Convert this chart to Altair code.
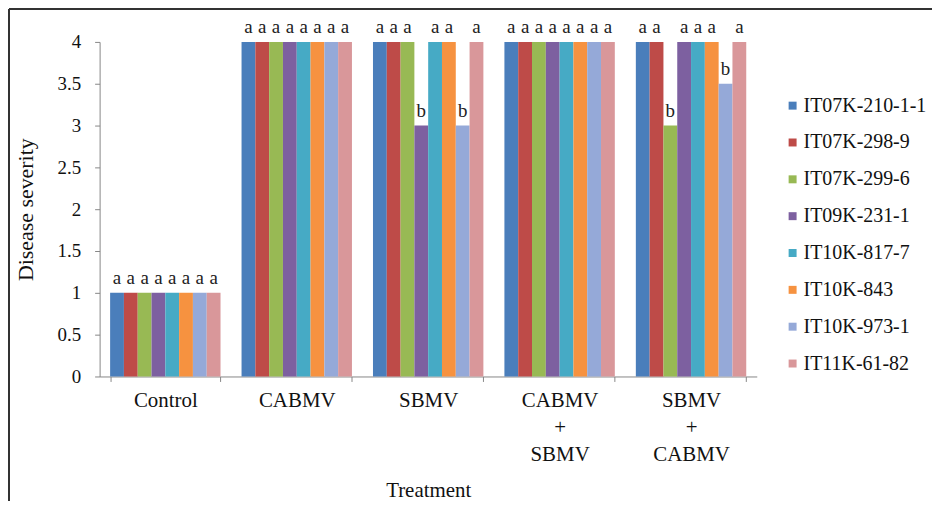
import altair as alt
import pandas as pd

treatments = ["Control", "CABMV", "SBMV", "CABMV|+|SBMV", "SBMV|+|CABMV"]
genotypes = ["IT07K-210-1-1", "IT07K-298-9", "IT07K-299-6", "IT09K-231-1",
             "IT10K-817-7", "IT10K-843", "IT10K-973-1", "IT11K-61-82"]
colors = ["#4A7EBB", "#BE4B48", "#98B954", "#7D60A0",
          "#46AAC5", "#F69240", "#95A9D8", "#D9979A"]

control = [1, 1, 1, 1, 1, 1, 1, 1]
cabmv = [4, 4, 4, 4, 4, 4, 4, 4]
sbmv = [4, 4, 4, 3, 4, 4, 3, 4]
cabmv_sbmv = [4, 4, 4, 4, 4, 4, 4, 4]
sbmv_cabmv = [4, 4, 3, 4, 4, 4, 3.5, 4]

control_l = ["a"] * 8
cabmv_l = ["a"] * 8
sbmv_l = ["a", "a", "a", "b", "a", "a", "b", "a"]
cabmv_sbmv_l = ["a"] * 8
sbmv_cabmv_l = ["a", "a", "b", "a", "a", "a", "b", "a"]

values = [control, cabmv, sbmv, cabmv_sbmv, sbmv_cabmv]
letters = [control_l, cabmv_l, sbmv_l, cabmv_sbmv_l, sbmv_cabmv_l]

rows = []
for t, vals, lets in zip(treatments, values, letters):
    for g, v, l in zip(genotypes, vals, lets):
        rows.append({"Treatment": t, "Genotype": g, "Severity": v, "Letter": l})
df = pd.DataFrame(rows)

FONT = "Liberation Serif"
W, H = 660, 336

x_enc = alt.X("Treatment:N", sort=treatments,
              scale=alt.Scale(paddingInner=0.16, paddingOuter=0.08),
              axis=alt.Axis(title="Treatment", labelAngle=0,
                            labelExpr="split(datum.label, '|')",
                            labelFontSize=21, labelLineHeight=27,
                            labelPadding=8, labelBaseline="top",
                            tickBand="extent", tickSize=5,
                            titleFontSize=21, titlePadding=16,
                            titleFontWeight="normal"))
xo_enc = alt.XOffset("Genotype:N", sort=genotypes, scale=alt.Scale(paddingInner=0, paddingOuter=0))
y_enc = alt.Y("Severity:Q", scale=alt.Scale(domain=[0, 4], nice=False),
              axis=alt.Axis(title="Disease severity", values=[0, 0.5, 1, 1.5, 2, 2.5, 3, 3.5, 4],
                            format=".1~f", grid=False, tickSize=5, labelPadding=14,
                            labelFontSize=19, titleFontSize=22, titlePadding=20,
                            titleFontWeight="normal"))

bars = alt.Chart(df).mark_bar().encode(
    x=x_enc, xOffset=xo_enc, y=y_enc,
    color=alt.Color("Genotype:N", sort=genotypes,
                    scale=alt.Scale(domain=genotypes, range=colors),
                    legend=alt.Legend(title=None, orient="none", legendX=686, legendY=54,
                                      symbolType="square", symbolSize=64,
                                      labelLimit=400, padding=0,
                                      symbolStrokeWidth=0, labelFontSize=20,
                                      rowPadding=17, labelOffset=1)),
)

text = alt.Chart(df).mark_text(baseline="bottom", dy=-5, fontSize=19, font=FONT,
                               color="#222222").encode(
    x=alt.X("Treatment:N", sort=treatments),
    xOffset=alt.XOffset("Genotype:N", sort=genotypes),
    y="Severity:Q",
    text="Letter:N",
)

frame_left = alt.Chart(df).mark_rule(color="#333333", strokeWidth=1.5).encode(
    x=alt.value(-91), y=alt.value(-33), y2=alt.value(461))
frame_top = alt.Chart(df).mark_rule(color="#333333", strokeWidth=1.5).encode(
    x=alt.value(-91), x2=alt.value(850), y=alt.value(-33))

chart = alt.layer(bars, text, frame_left, frame_top).properties(
    width=W, height=H,
    autosize=alt.AutoSizeParams(type="none"),
    padding={"left": 92, "top": 33, "right": 176, "bottom": 125},
).configure_view(stroke=None).configure_axis(
    labelFont=FONT, titleFont=FONT, labelColor="#111111", titleColor="#111111",
    domainColor="#868686", tickColor="#868686",
).configure_legend(labelFont=FONT, labelColor="#111111")

chart.save("out.html", embed_options={"renderer": "svg", "actions": False})
